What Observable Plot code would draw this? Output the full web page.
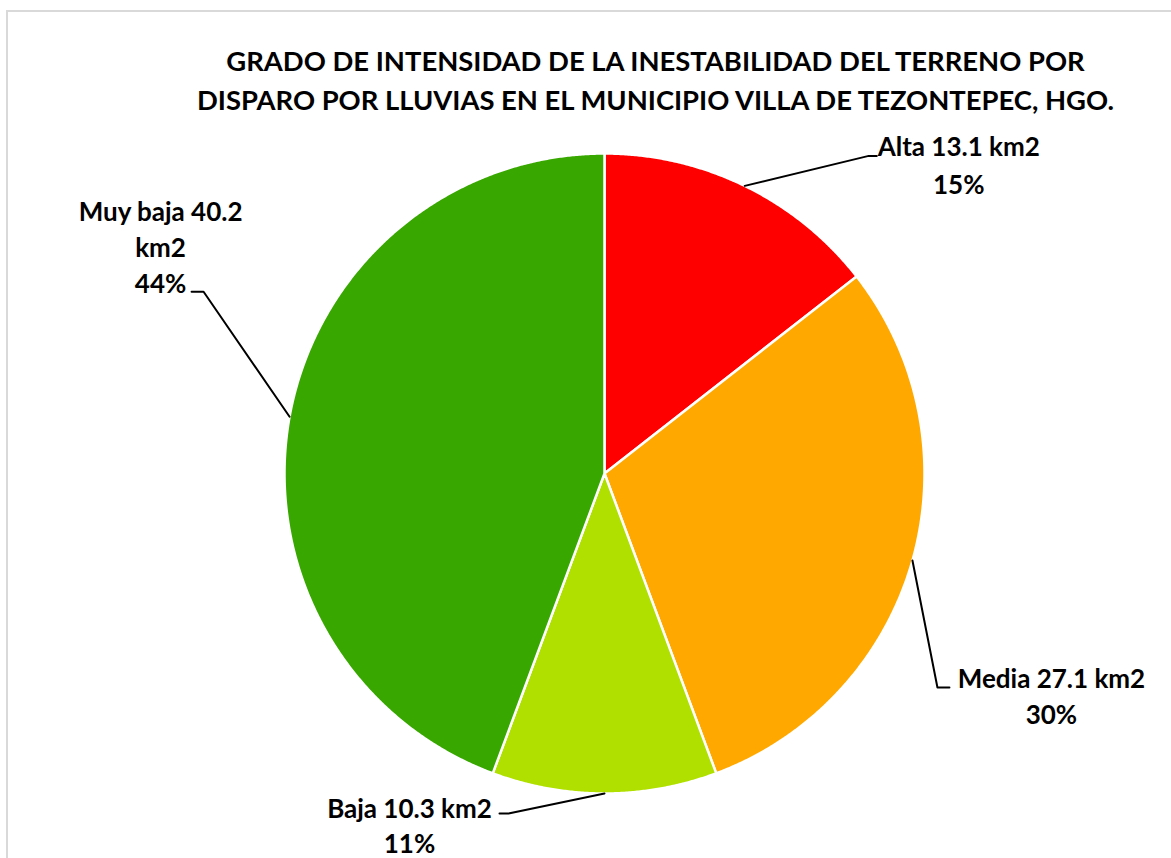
<!DOCTYPE html>
<html><head><meta charset="utf-8">
<script src="https://cdn.jsdelivr.net/npm/d3@7"></script>
<script src="https://cdn.jsdelivr.net/npm/@observablehq/plot@0.6"></script>
<style>
html,body{margin:0;padding:0;background:#fff;overflow:hidden;width:1171px;height:858px;}
#frame{position:absolute;left:6px;top:10px;width:1200px;height:900px;border-top:2px solid #d9d9d9;border-left:2px solid #d9d9d9;}
#title{font-family:Lato,"Open Sans",sans-serif;font-weight:bold;font-size:27.4px;line-height:39px;color:#000;text-align:center;padding-left:132px;width:1031px;padding-top:29px;height:78px;white-space:nowrap;}
#chart svg{display:block;}
</style></head>
<body>
<div id="frame">
  <div id="title">GRADO DE INTENSIDAD DE LA INESTABILIDAD DEL TERRENO POR<br>DISPARO POR LLUVIAS EN EL MUNICIPIO VILLA DE TEZONTEPEC, HGO.</div>
  <div id="chart"></div>
</div>
<script>
// ---- data ----
const categories = ["Alta", "Media", "Baja", "Muy baja"];
const areasKm2 = [13.1, 27.1, 10.3, 40.2];
const percentLabels = ["15%", "30%", "11%", "44%"];
const sliceColors = ["#ff0000", "#ffa800", "#b0e000", "#38a800"];

// ---- label layout (pixel offsets from each slice's outer-arc midpoint) ----
const labelKnee = [[124, -30], [25, 127], [-96, 20], [-86, -125]];
const labelEnd = [[132, -30], [37, 127], [-105, 20], [-98, -125]];
const labelTextX = [214, 139, -195, -129];
const labelBaselines = [[-30, 8], [127, 163], [24, 59], [-196, -160, -124]];
const labelWrap = [false, false, false, true];

// ---- build ----
const rows = categories.map((name, i) => ({name, area: areasKm2[i], pct: percentLabels[i]}));
const xRange = [276, 916], yRange = [674, 34];
const R = (xRange[1] - xRange[0]) / 2;

const arcs = d3.pie().sort(null).value(d => d.area)(rows);

const slicePts = [];
arcs.forEach(p => {
  const name = p.data.name;
  slicePts.push({name, x: 0, y: 0});
  const n = Math.max(2, Math.ceil((p.endAngle - p.startAngle) / 0.005));
  for (let k = 0; k <= n; k++) {
    const a = p.startAngle + (p.endAngle - p.startAngle) * k / n;
    slicePts.push({name, x: Math.sin(a), y: Math.cos(a)});
  }
});

const leaderPts = [];
const textRows = [];
arcs.forEach((p, i) => {
  const name = p.data.name;
  const a = (p.startAngle + p.endAngle) / 2;
  const mx = Math.sin(a), my = Math.cos(a);
  leaderPts.push({name, x: mx, y: my});
  leaderPts.push({name, x: mx + labelKnee[i][0] / R, y: my - labelKnee[i][1] / R});
  leaderPts.push({name, x: mx + labelEnd[i][0] / R, y: my - labelEnd[i][1] / R});
  const head = `${name} ${p.data.area} km2`;
  const lines = labelWrap[i]
    ? [`${name} ${p.data.area}`, "km2", p.data.pct]
    : [head, p.data.pct];
  lines.forEach((t, j) => {
    textRows.push({text: t, x: mx + labelTextX[i] / R, y: my - labelBaselines[i][j] / R});
  });
});

const chart = Plot.plot({
  width: 1163,
  height: 739,
  margin: 0,
  style: {background: "transparent", fontFamily: "Lato, 'Open Sans', sans-serif"},
  x: {domain: [-1, 1], range: xRange, axis: null},
  y: {domain: [-1, 1], range: yRange, axis: null},
  color: {domain: categories, range: sliceColors},
  marks: [
    Plot.line(slicePts, {x: "x", y: "y", z: "name", fill: "name", stroke: "white", strokeWidth: 2.5, curve: "linear-closed"}),
    Plot.line(leaderPts, {x: "x", y: "y", z: "name", stroke: "black", strokeWidth: 2}),
    Plot.text(textRows, {x: "x", y: "y", text: "text", textAnchor: "middle", lineAnchor: "bottom", fontSize: 26, fontWeight: "bold", fill: "black"})
  ]
});
document.getElementById("chart").append(chart);
</script>
</body></html>
